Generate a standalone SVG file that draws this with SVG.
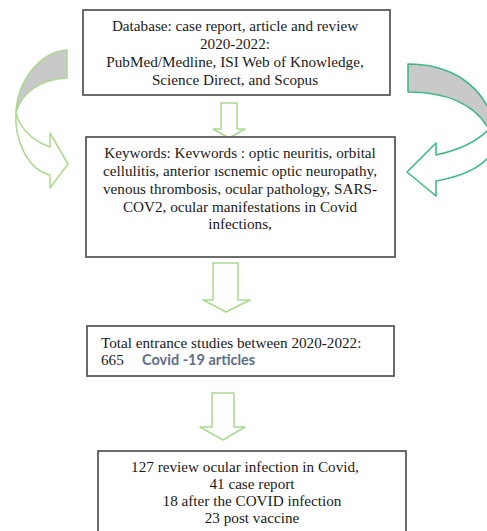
<svg xmlns="http://www.w3.org/2000/svg" width="487" height="531" viewBox="0 0 487 531">
  <defs>
    <style>
      .box { fill: #ffffff; stroke: #5c5c5c; stroke-width: 1.8; }
      .txt { font-family: "Liberation Serif", "Times New Roman", serif; font-size: 15.2px; fill: #1a1a1a; }
      .mid { text-anchor: middle; }
      .sans { font-family: Lato, "Open Sans", "Liberation Sans", sans-serif; font-size: 14.5px; fill: #5e6f86; font-weight: bold; }
      .down { fill: #ffffff; stroke: #a9d98f; stroke-width: 1.5; stroke-linejoin: round; }
      .lcurve { stroke: #a9d98f; stroke-width: 1.5; stroke-linejoin: round; }
      .rcurve { stroke: #3dbb82; stroke-width: 1.6; stroke-linejoin: round; }
      .back { fill: #c9c9c9; }
      .front { fill: #ffffff; }
    </style>
  </defs>
  <rect width="487" height="531" fill="#ffffff"/>

  <!-- connectors -->
  <g id="connectors">
    <!-- curved arrow, left side -->
    <path class="lcurve back" d="M67,50 C40,52 18,80 16,112 C22,93 40,79 67,78 Z"/>
    <path class="lcurve front" d="M16,112 C18,125 30,140 50,147 L50,133 L68,164 L50,188 L50,175 C28,170 14,140 16,112 Z"/>
    <!-- curved arrow, right side -->
    <path class="rcurve back" d="M408,64 C450,64 482,84 494,122 L494,140 C482,108 452,92 408,92 Z"/>
    <path class="rcurve front" d="M492,126 C480,140 460,150 436,155 L436,143 L407,172 L436,196 L436,181 C465,176 485,165 494,150"/>
    <!-- block arrows between boxes -->
    <path class="down" d="M221,103 L237,103 L237,129 L245,129 L229,138 L213,129 L221,129 Z"/>
    <path class="down" d="M213,263 L238,263 L238,300 L250,300 L226,312 L203,300 L213,300 Z"/>
    <path class="down" d="M212,393 L234,393 L234,427 L245,427 L223,440 L200,427 L212,427 Z"/>
  </g>

  <g id="sources">
    <rect class="box" x="83" y="10" width="307" height="85"/>
    <text class="txt mid" x="235" y="31">Database: case report, article  and review</text>
    <text class="txt mid" x="235" y="49">2020-2022:</text>
    <text class="txt mid" x="235" y="67">PubMed/Medline, ISI Web of Knowledge,</text>
    <text class="txt mid" x="235" y="85">Science Direct, and Scopus</text>
  </g>

  <g id="keywords">
    <rect class="box" x="86" y="137" width="309" height="120"/>
    <text class="txt mid" x="240" y="158">Keywords: Kevwords : optic neuritis, orbital</text>
    <text class="txt mid" x="240" y="176">cellulitis, anterior ıscnemic optic neuropathy,</text>
    <text class="txt mid" x="240" y="194">venous thrombosis, ocular pathology, SARS-</text>
    <text class="txt mid" x="240" y="212">COV2, ocular manifestations in Covid</text>
    <text class="txt mid" x="240" y="229">infections,</text>
  </g>

  <g id="total">
    <rect class="box" x="87" y="326" width="307" height="50"/>
    <text class="txt" x="101" y="348">Total entrance studies between 2020-2022:</text>
    <text class="txt" x="101" y="365">665</text>
    <text class="sans" x="142" y="365">Covid -19 articles</text>
  </g>

  <g id="results">
    <rect class="box" x="98" y="451" width="308" height="100"/>
    <text class="txt mid" x="245" y="472">127 review ocular infection in Covid,</text>
    <text class="txt mid" x="252" y="489">41 case report</text>
    <text class="txt mid" x="252" y="506">18 after the COVID infection</text>
    <text class="txt mid" x="252" y="523">23 post vaccine</text>
  </g>
</svg>
